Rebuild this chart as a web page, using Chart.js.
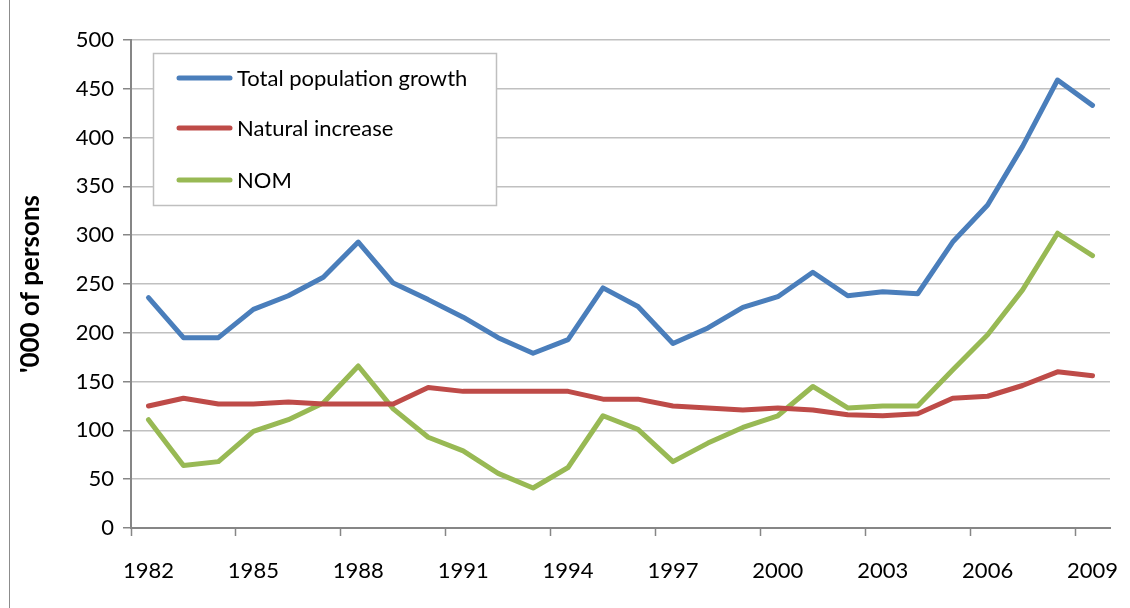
<!DOCTYPE html>
<html>
<head>
<meta charset="utf-8">
<script src="https://cdn.jsdelivr.net/npm/chart.js@4/dist/chart.umd.min.js"></script>
<style>
  html, body { margin: 0; padding: 0; background: #fff; }
  #wrap { width: 1130px; height: 608px; position: relative; }
</style>
</head>
<body>
<div id="wrap"><canvas id="chart" width="1130" height="608"></canvas></div>
<script>
// years on the category axis
const years = [
  1982, 1983, 1984, 1985, 1986, 1987, 1988, 1989, 1990, 1991,
  1992, 1993, 1994, 1995, 1996, 1997, 1998, 1999, 2000, 2001,
  2002, 2003, 2004, 2005, 2006, 2007, 2008, 2009
];

// '000 of persons
const totalGrowth = [
  236, 195, 195, 224, 238, 257, 293, 251, 234, 216,
  195, 179, 193, 246, 227, 189, 205, 226, 237, 262,
  238, 242, 240, 293, 331, 391, 459, 433
];
const naturalIncrease = [
  125, 133, 127, 127, 129, 127, 127, 127, 144, 140,
  140, 140, 140, 132, 132, 125, 123, 121, 123, 121,
  116, 115, 117, 133, 135, 146, 160, 156
];
const nom = [
  111, 64, 68, 99, 111, 128, 166, 122, 93, 79,
  56, 41, 62, 115, 101, 68, 87, 103, 115, 145,
  123, 125, 125, 162, 198, 244, 302, 279
];

const yTicks = [0, 50, 100, 150, 200, 250, 300, 350, 400, 450, 500];

const FONT = 'Lato, "Liberation Sans", sans-serif';
const axisGrey = '#868686';

// legend drawn as a box inside the plot, like the original
const boxLegend = {
  id: 'boxLegend',
  afterDraw(chart) {
    const ctx = chart.ctx;
    const x = 153, y = 53, w = 343, h = 152;
    ctx.save();
    ctx.fillStyle = '#fff';
    ctx.fillRect(x, y, w, h);
    ctx.strokeStyle = '#BFBFBF';
    ctx.lineWidth = 1.5;
    ctx.strokeRect(x + 0.5, y + 0.5, w, h);
    const rows = [78, 128, 180];
    chart.data.datasets.forEach((ds, i) => {
      ctx.strokeStyle = ds.borderColor;
      ctx.lineWidth = 5;
      ctx.lineCap = 'round';
      ctx.beginPath();
      ctx.moveTo(179, rows[i]);
      ctx.lineTo(230, rows[i]);
      ctx.stroke();
      ctx.fillStyle = '#000';
      ctx.font = '22px ' + FONT;
      ctx.textBaseline = 'middle';
      ctx.textAlign = 'left';
      ctx.fillText(ds.label, 237, rows[i] + 1);
    });
    ctx.restore();
  }
};

const outerFrame = {
  id: 'outerFrame',
  afterDraw(chart) {
    const ctx = chart.ctx;
    ctx.save();
    ctx.strokeStyle = '#8c8c8c';
    ctx.lineWidth = 1;
    ctx.beginPath();
    ctx.moveTo(9.5, 0);
    ctx.lineTo(9.5, 608);
    ctx.stroke();
    ctx.restore();
  }
};

const ctx = document.getElementById('chart').getContext('2d');
new Chart(ctx, {
  type: 'line',
  data: {
    labels: years.map(String),
    datasets: [
      { label: 'Total population growth', data: totalGrowth, borderColor: '#4A7EBB' },
      { label: 'Natural increase', data: naturalIncrease, borderColor: '#BE4B48' },
      { label: 'NOM', data: nom, borderColor: '#98B954' }
    ]
  },
  options: {
    responsive: false,
    animation: false,
    devicePixelRatio: 1,
    layout: { padding: { left: 0, right: 20, top: 40, bottom: 0 } },
    elements: {
      line: { borderWidth: 5, tension: 0, borderCapStyle: 'round', borderJoinStyle: 'round', fill: false },
      point: { radius: 0, hoverRadius: 0 }
    },
    plugins: {
      legend: { display: false },
      tooltip: { enabled: false }
    },
    scales: {
      x: {
        offset: true,
        grid: {
          offset: true,
          drawOnChartArea: false,
          drawTicks: true,
          tickLength: 8,
          tickWidth: 1.5,
          tickColor: c => (c.index % 3 === 0 ? axisGrey : 'rgba(0,0,0,0)')
        },
        border: { color: axisGrey, width: 2 },
        ticks: {
          autoSkip: false,
          maxRotation: 0,
          padding: 22,
          color: '#000',
          font: { family: FONT, size: 22 },
          callback: function (v, i) { return i % 3 === 0 ? this.getLabelForValue(v) : ''; }
        },
        afterFit: s => {
          s.height = 80;
          // keep the plot edge where the original has it
          s.paddingLeft = 0;
          s.paddingRight = 0;
        }
      },
      y: {
        min: 0,
        max: 500,
        afterBuildTicks: s => { s.ticks = yTicks.map(v => ({ value: v })); },
        grid: {
          color: '#C0C0C0',
          lineWidth: 1.5,
          tickLength: 8,
          tickColor: axisGrey
        },
        border: { color: axisGrey, width: 2 },
        ticks: {
          padding: 9,
          color: '#000',
          font: { family: FONT, size: 22 }
        },
        title: {
          display: true,
          text: "'000 of persons",
          color: '#000',
          font: { family: FONT, size: 26, weight: 'bold' },
          padding: { top: 15, bottom: 0 }
        },
        afterFit: s => { s.width = 131; }
      }
    }
  },
  plugins: [boxLegend, outerFrame]
});
</script>
</body>
</html>
